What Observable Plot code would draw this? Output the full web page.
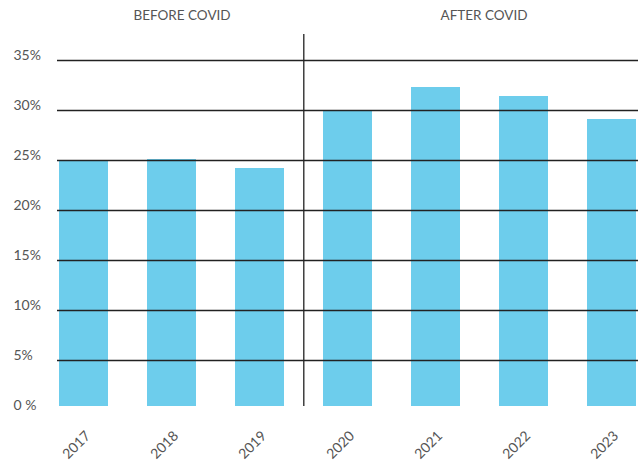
<!DOCTYPE html>
<html>
<head>
<meta charset="utf-8">
<script src="https://cdn.jsdelivr.net/npm/d3@7"></script>
<script src="https://cdn.jsdelivr.net/npm/@observablehq/plot@0.6"></script>
<style>
  html, body { margin: 0; padding: 0; background: #fff; }
  #chart svg { display: block; }
</style>
</head>
<body>
<div id="chart"></div>
<script>
// Share of respondents per year, in percent
const years = ["2017", "2018", "2019", "2020", "2021", "2022", "2023"];
const shares = [24.9, 25.1, 24.2, 30.0, 32.3, 31.4, 29.1];
const yTicks = [0, 5, 10, 15, 20, 25, 30, 35];
const gridTicks = [5, 10, 15, 20, 25, 30, 35];
const periodLabels = ["BEFORE COVID", "AFTER COVID"];
const periodAnchors = ["2018", "2021"];

const data = years.map((year, i) => ({year, share: shares[i]}));

const W = 638, H = 461;
const font = "Lato, 'Noto Sans', sans-serif";
const textColor = "#555";

// Period heading above each group of bars
const periodText = (i, dx) => Plot.text([periodLabels[i]], {
  x: () => periodAnchors[i],
  text: d => d,
  frameAnchor: "top",
  lineAnchor: "middle",
  dx,
  dy: -19,
  fontSize: 13.5,
  fill: textColor
});

const chart = Plot.plot({
  width: W,
  height: H,
  marginTop: 34,
  marginBottom: 55,
  marginLeft: 57,
  marginRight: 0,
  style: {fontFamily: font, background: "#fff", overflow: "visible"},
  x: {domain: years, range: [58, 637], paddingInner: 0.445, paddingOuter: 0, axis: null},
  y: {domain: [0, 35], range: [410, 60], axis: null},
  marks: [
    Plot.barY(data, {x: "year", y: "share", fill: "#6dcdec", clip: true}),
    Plot.ruleY(gridTicks, {y: d => d, stroke: "#222", strokeWidth: 1.3}),
    Plot.ruleX(["2020"], {x: d => d, dx: -44.2, stroke: "#222", strokeWidth: 1.3}),
    Plot.text(yTicks, {
      y: d => d,
      text: d => d === 0 ? "0 %" : `${d}%`,
      frameAnchor: "left",
      textAnchor: "start",
      dx: -44,
      dy: -5,
      fontSize: 14,
      fill: textColor
    }),
    Plot.text(data, {
      x: "year",
      text: "year",
      frameAnchor: "bottom",
      textAnchor: "end",
      lineAnchor: "middle",
      rotate: -45,
      dx: 4,
      dy: 27,
      fontSize: 14,
      fill: textColor
    }),
    periodText(0, 10),
    periodText(1, 48)
  ]
});

document.getElementById("chart").appendChild(chart);
</script>
</body>
</html>
